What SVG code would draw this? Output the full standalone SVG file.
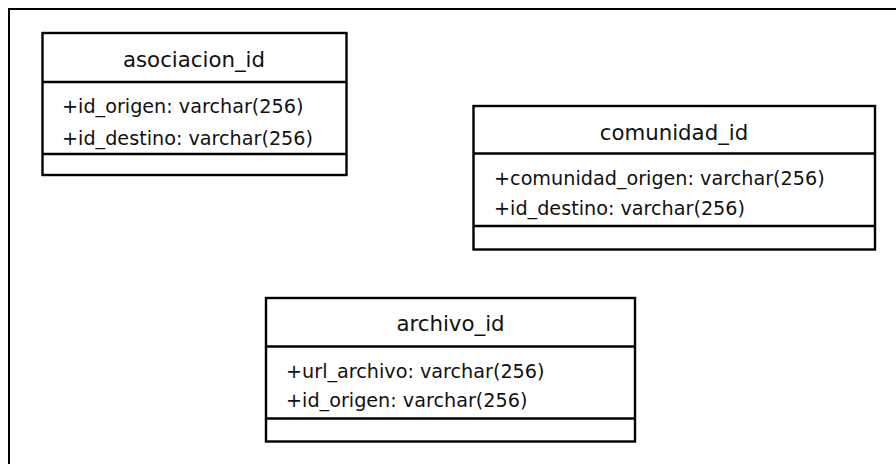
<svg xmlns="http://www.w3.org/2000/svg" width="896" height="464" viewBox="0 0 896 464">
  <style>
    .frame { fill: none; stroke: #000; stroke-width: 2; }
    .box { fill: #fff; stroke: #000; stroke-width: 2.4; }
    .sep { stroke: #000; stroke-width: 2.4; }
    .title { font-family: "DejaVu Sans", Verdana, sans-serif; font-size: 21.3px; fill: #111; text-anchor: middle; }
    .attr { font-family: "DejaVu Sans", Verdana, sans-serif; font-size: 19.2px; fill: #111; }
  </style>

  <!-- outer frame, open to the right and bottom -->
  <path class="frame" d="M9 470 V9 H905"/>

  <g id="connectors"></g>

  <!-- class: asociacion_id -->
  <g id="asociacion_id">
    <rect class="box" x="42.5" y="33" width="304" height="142"/>
    <line class="sep" x1="42.5" y1="82" x2="346.5" y2="82"/>
    <line class="sep" x1="42.5" y1="154" x2="346.5" y2="154"/>
    <text class="title" x="194" y="66.5">asociacion_id</text>
    <text class="attr" x="62" y="113">+id_origen: varchar(256)</text>
    <text class="attr" x="62" y="145">+id_destino: varchar(256)</text>
  </g>

  <!-- class: comunidad_id -->
  <g id="comunidad_id">
    <rect class="box" x="473.5" y="106" width="401.5" height="143.5"/>
    <line class="sep" x1="473.5" y1="153.5" x2="875" y2="153.5"/>
    <line class="sep" x1="473.5" y1="226" x2="875" y2="226"/>
    <text class="title" x="674" y="139.5">comunidad_id</text>
    <text class="attr" x="494" y="185">+comunidad_origen: varchar(256)</text>
    <text class="attr" x="494" y="215">+id_destino: varchar(256)</text>
  </g>

  <!-- class: archivo_id -->
  <g id="archivo_id">
    <rect class="box" x="266" y="298" width="369" height="143.5"/>
    <line class="sep" x1="266" y1="346.5" x2="635" y2="346.5"/>
    <line class="sep" x1="266" y1="418.5" x2="635" y2="418.5"/>
    <text class="title" x="450.5" y="330.5">archivo_id</text>
    <text class="attr" x="286" y="377.5">+url_archivo: varchar(256)</text>
    <text class="attr" x="286" y="407">+id_origen: varchar(256)</text>
  </g>
</svg>
